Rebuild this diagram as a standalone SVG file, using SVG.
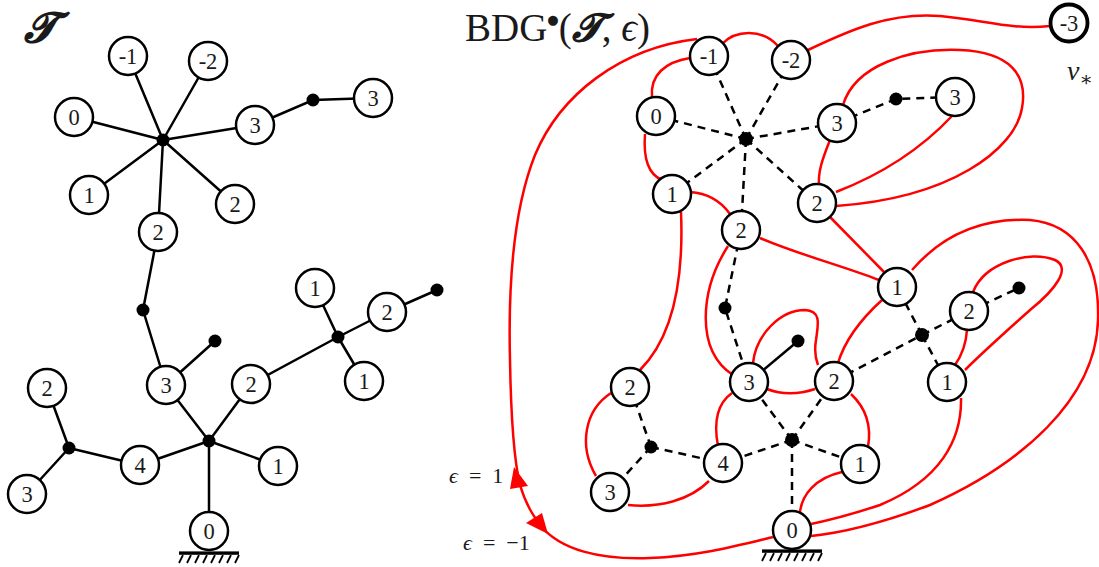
<svg xmlns="http://www.w3.org/2000/svg" width="1099" height="567" viewBox="0 0 1099 567">
<style>
.n circle{fill:#fff;stroke:#000;stroke-width:2.5}
.n text{font-family:"Liberation Serif","DejaVu Serif",serif;font-size:22.5px;text-anchor:middle;dominant-baseline:central;fill:#1a1a1a}
.dot{fill:#000}
.e{stroke:#000;stroke-width:2.5;fill:none}
.d{stroke:#000;stroke-width:2.5;fill:none;stroke-dasharray:8 6}
.r{stroke:#ff0000;stroke-width:2.5;fill:none}
.lbl{font-family:"Liberation Serif","DejaVu Serif",serif;fill:#1a1a1a}
.g{stroke:#000;stroke-width:1.8}
</style>
<defs>
<g id="ground">
<rect x="-30" y="-1.6" width="60" height="3.4" fill="#000"/>
<path class="g" d="M-26 2 l-4 8 M-18 2 l-4 8 M-10 2 l-4 8 M-2 2 l-4 8 M6 2 l-4 8 M14 2 l-4 8 M22 2 l-4 8 M30 2 l-4 8"/>
</g>
</defs>

<!-- Titles -->
<text class="lbl" x="24" y="42" font-size="42" font-weight="bold" font-style="italic">𝓣</text>
<text class="lbl" x="465" y="41" font-size="39">BDG<tspan font-family="DejaVu Sans, sans-serif" font-size="13" dy="-17">●</tspan><tspan dy="17">(</tspan><tspan font-weight="bold" font-style="italic">𝓣</tspan>, <tspan font-style="italic">ϵ</tspan>)</text>
<text class="lbl" x="1067" y="80" font-size="28" font-style="italic">v<tspan font-size="20" dy="6" font-style="normal">∗</tspan></text>
<text class="lbl" x="449" y="483" font-size="22" xml:space="preserve"><tspan font-style="italic">ϵ</tspan>  =  1</text>
<text class="lbl" x="463" y="550" font-size="22" xml:space="preserve"><tspan font-style="italic">ϵ</tspan>  =  −1</text>

<!-- Connectors -->
<g id="connectors">
<!-- left tree -->
<path class="e" d="M163 140 L128 56 M163 140 L208 61 M163 140 L74 117 M163 140 L255 125 M163 140 L89 195 M163 140 L235 204 M163 140 L158 232"/>
<path class="e" d="M255 125 L313 100 L373 98"/>
<path class="e" d="M158 232 L143 310 L166 385 M166 385 L215 341"/>
<path class="e" d="M209 441 L166 385 M209 441 L251 384 M209 441 L140 465 M209 441 L278 466 M209 441 L209 531"/>
<path class="e" d="M251 384 L338 337 M338 337 L315 288 M338 337 L387 312 M338 337 L364 381 M387 312 L437 290"/>
<path class="e" d="M140 465 L69 448 M69 448 L47 388 M69 448 L27 494"/>
<!-- right dashed tree -->
<path class="d" d="M746 139 L709 56 M746 139 L791 60 M746 139 L656 116 M746 139 L837 123 M746 139 L672 194 M746 139 L741 230 M746 139 L817 203"/>
<path class="d" d="M837 123 L896 99 L955 97"/>
<path class="d" d="M741 230 L725 308 L749 382"/>
<path class="e" d="M749 382 L798 341"/>
<path class="d" d="M792 440 L749 382 M792 440 L834 381 M792 440 L723 463 M792 440 L860 464 M792 440 L792 530"/>
<path class="d" d="M834 381 L922 335 M922 335 L897 287 M922 335 L969 311 M922 335 L947 382 M969 311 L1019 288"/>
<path class="d" d="M651 447 L630 387 M651 447 L610 492 M651 447 L723 463"/>
<!-- red curves -->
<path class="r" d="M722 44 C735 30 762 28 778 46"/>
<path class="r" d="M808 50 C850 30 890 12 940 16 C985 20 1010 30 1050 26"/>
<path class="r" d="M690 58 C665 62 650 75 652 97"/>
<path class="r" d="M645 134 C643 160 650 175 662 180"/>
<path class="r" d="M690 192 C705 193 720 200 730 214"/>
<path class="r" d="M681 212 C683 260 680 330 640 370"/>
<path class="r" d="M728 246 C700 290 695 350 733 375"/>
<path class="r" d="M760 238 C800 255 840 265 879 280"/>
<path class="r" d="M830 217 L884 272"/>
<path class="r" d="M830 140 C822 160 818 172 819 185"/>
<path class="r" d="M843 105 C855 65 910 48 960 50 C1010 52 1028 75 1022 108 C1015 150 950 198 836 206"/>
<path class="r" d="M952 116 C920 150 880 175 836 192"/>
<path class="r" d="M912 270 C945 232 985 218 1030 220 C1075 224 1100 260 1098 320 C1096 400 1020 465 930 505 C890 520 850 532 811 536"/>
<path class="r" d="M882 300 C860 320 845 340 838 363"/>
<path class="r" d="M973 292 C985 262 1030 250 1055 260 C1072 268 1055 290 1030 310 C1010 328 985 350 965 370"/>
<path class="r" d="M967 330 C966 345 962 355 955 365"/>
<path class="r" d="M961 398 C962 440 940 480 880 505 C850 515 830 520 811 524"/>
<path class="r" d="M753 363 C756 335 780 310 805 310 C822 311 818 325 816 340 C814 352 816 360 818 365"/>
<path class="r" d="M767 389 C785 396 800 394 815 389"/>
<path class="r" d="M732 393 C715 405 714 425 718 446"/>
<path class="r" d="M851 394 C868 410 871 430 868 447"/>
<path class="r" d="M842 472 C815 478 802 495 800 512"/>
<path class="r" d="M697 39 C620 48 560 95 535 155 C515 205 508 280 510 360 C511 420 514 460 520 485 C526 505 533 515 540 525 C560 550 600 560 650 558 C700 556 740 545 773 537"/>
<path class="r" d="M611 393 C585 410 578 445 596 476"/>
<path class="r" d="M628 505 C660 508 690 500 709 481"/>
<path fill="#ff0000" d="M514 467 L510 489 L528 486 Z"/>
<path fill="#ff0000" d="M548 534 L526 523 L542 513 Z"/>
</g>

<!-- Left tree nodes -->
<g id="lA"><circle class="dot" cx="163" cy="140" r="6.5"/></g>
<g id="lm1" class="n"><circle cx="128" cy="56" r="19"/><text x="128" y="56">-1</text></g>
<g id="lm2" class="n"><circle cx="208" cy="61" r="19"/><text x="208" y="61">-2</text></g>
<g id="l0a" class="n"><circle cx="74" cy="117" r="19"/><text x="74" y="117">0</text></g>
<g id="l3a" class="n"><circle cx="255" cy="125" r="19"/><text x="255" y="125">3</text></g>
<g id="ld1"><circle class="dot" cx="313" cy="100" r="6.5"/></g>
<g id="l3b" class="n"><circle cx="373" cy="98" r="19"/><text x="373" y="98">3</text></g>
<g id="l1a" class="n"><circle cx="89" cy="195" r="19"/><text x="89" y="195">1</text></g>
<g id="l2a" class="n"><circle cx="235" cy="204" r="19"/><text x="235" y="204">2</text></g>
<g id="l2b" class="n"><circle cx="158" cy="232" r="19"/><text x="158" y="232">2</text></g>
<g id="ld2"><circle class="dot" cx="143" cy="310" r="6.5"/></g>
<g id="l3c" class="n"><circle cx="166" cy="385" r="19"/><text x="166" y="385">3</text></g>
<g id="ld3"><circle class="dot" cx="215" cy="341" r="6.5"/></g>
<g id="l2c" class="n"><circle cx="251" cy="384" r="19"/><text x="251" y="384">2</text></g>
<g id="lB"><circle class="dot" cx="209" cy="441" r="6.5"/></g>
<g id="l1b" class="n"><circle cx="278" cy="466" r="19"/><text x="278" y="466">1</text></g>
<g id="l4" class="n"><circle cx="140" cy="465" r="19"/><text x="140" y="465">4</text></g>
<g id="lC"><circle class="dot" cx="69" cy="448" r="6.5"/></g>
<g id="l2d" class="n"><circle cx="47" cy="388" r="19"/><text x="47" y="388">2</text></g>
<g id="l3d" class="n"><circle cx="27" cy="494" r="19"/><text x="27" y="494">3</text></g>
<g id="l0root" class="n"><use href="#ground" x="209" y="553"/><circle cx="209" cy="531" r="19"/><text x="209" y="531">0</text></g>
<g id="lD"><circle class="dot" cx="338" cy="337" r="6.5"/></g>
<g id="l1c" class="n"><circle cx="315" cy="288" r="19"/><text x="315" y="288">1</text></g>
<g id="l2e" class="n"><circle cx="387" cy="312" r="19"/><text x="387" y="312">2</text></g>
<g id="ld4"><circle class="dot" cx="437" cy="290" r="6.5"/></g>
<g id="l1d" class="n"><circle cx="364" cy="381" r="19"/><text x="364" y="381">1</text></g>

<!-- Right diagram nodes -->
<g id="rE"><circle class="dot" cx="746" cy="139" r="7"/></g>
<g id="rm1" class="n"><circle cx="709" cy="56" r="19"/><text x="709" y="56">-1</text></g>
<g id="rm2" class="n"><circle cx="791" cy="60" r="19"/><text x="791" y="60">-2</text></g>
<g id="r0a" class="n"><circle cx="656" cy="116" r="19"/><text x="656" y="116">0</text></g>
<g id="r3a" class="n"><circle cx="837" cy="123" r="19"/><text x="837" y="123">3</text></g>
<g id="rd1"><circle class="dot" cx="896" cy="99" r="6.5"/></g>
<g id="r3b" class="n"><circle cx="955" cy="97" r="19"/><text x="955" y="97">3</text></g>
<g id="r1a" class="n"><circle cx="672" cy="194" r="19"/><text x="672" y="194">1</text></g>
<g id="r2a" class="n"><circle cx="817" cy="203" r="19"/><text x="817" y="203">2</text></g>
<g id="r2b" class="n"><circle cx="741" cy="230" r="19"/><text x="741" y="230">2</text></g>
<g id="rd2"><circle class="dot" cx="725" cy="308" r="6.5"/></g>
<g id="r3c" class="n"><circle cx="749" cy="382" r="19"/><text x="749" y="382">3</text></g>
<g id="rd3"><circle class="dot" cx="798" cy="341" r="6.5"/></g>
<g id="r2c" class="n"><circle cx="834" cy="381" r="19"/><text x="834" y="381">2</text></g>
<g id="r1b" class="n"><circle cx="897" cy="287" r="19"/><text x="897" y="287">1</text></g>
<g id="rD"><circle class="dot" cx="922" cy="335" r="7"/></g>
<g id="r2d" class="n"><circle cx="969" cy="311" r="19"/><text x="969" y="311">2</text></g>
<g id="rd4"><circle class="dot" cx="1019" cy="288" r="6.5"/></g>
<g id="r1c" class="n"><circle cx="947" cy="382" r="19"/><text x="947" y="382">1</text></g>
<g id="rF"><circle class="dot" cx="792" cy="440" r="7"/></g>
<g id="r1d" class="n"><circle cx="860" cy="464" r="19"/><text x="860" y="464">1</text></g>
<g id="r0root" class="n"><use href="#ground" x="792" y="551"/><circle cx="792" cy="530" r="19"/><text x="792" y="530">0</text></g>
<g id="r4" class="n"><circle cx="723" cy="463" r="19"/><text x="723" y="463">4</text></g>
<g id="rG"><circle class="dot" cx="651" cy="447" r="6.5"/></g>
<g id="r2e" class="n"><circle cx="630" cy="387" r="19"/><text x="630" y="387">2</text></g>
<g id="r3d" class="n"><circle cx="610" cy="492" r="19"/><text x="610" y="492">3</text></g>
<g id="rm3" class="n"><circle cx="1069" cy="23" r="18.5" style="stroke-width:3.8"/><text x="1069" y="23">-3</text></g>
</svg>
